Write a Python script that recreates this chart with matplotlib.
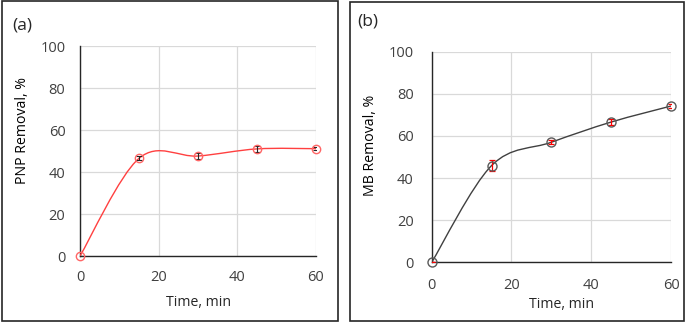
import numpy as np
import matplotlib
matplotlib.use("Agg")
import matplotlib.pyplot as plt
from matplotlib.path import Path
from matplotlib.patches import PathPatch, Rectangle

plt.rcParams['font.family'] = ['Open Sans', 'DejaVu Sans']

# data
time_min = [0, 15, 30, 45, 60]
pnp_removal = [0.0, 46.5, 47.6, 51.0, 51.1]
pnp_err = [0.0, 1.0, 1.5, 1.5, 0.6]
mb_removal = [0.0, 45.9, 57.0, 66.6, 74.2]
mb_err = [0.0, 2.5, 0.9, 1.5, 1.0]

x_ticks = [0, 20, 40, 60]
y_ticks = [0, 20, 40, 60, 80, 100]


def smooth_path(x, y):
    """Excel-style smoothed line as a cubic Bezier path (data coords)."""
    pts = np.column_stack([x, y]).astype(float)
    n = len(pts)
    verts = [pts[0]]
    codes = [Path.MOVETO]
    for i in range(n - 1):
        p_prev = pts[max(i - 1, 0)]
        p_next2 = pts[min(i + 2, n - 1)]
        c1 = pts[i] + (pts[i + 1] - p_prev) / 6.0
        c2 = pts[i + 1] - (p_next2 - pts[i]) / 6.0
        verts += [c1, c2, pts[i + 1]]
        codes += [Path.CURVE4] * 3
    return Path(verts, codes)


def style_axes(ax, xpad, ypad):
    ax.set_xlim(0, 60)
    ax.set_ylim(0, 100)
    ax.set_xticks(x_ticks)
    ax.set_yticks(y_ticks)
    ax.grid(True, color='#d9d9d9', lw=0.9)
    ax.set_axisbelow(True)
    for s in ['top', 'right']:
        ax.spines[s].set_visible(False)
    for s in ['left', 'bottom']:
        ax.spines[s].set_color('#262626')
        ax.spines[s].set_linewidth(1.0)
    ax.tick_params(length=0, labelsize=10.5, colors='#404040')
    ax.tick_params(axis='x', pad=xpad)
    ax.tick_params(axis='y', pad=ypad)


fig = plt.figure(figsize=(6.85, 3.23), dpi=100)

# panel frames
fig.patches.append(Rectangle((1.5 / 685, 1 - 321 / 323), 336 / 685, 320 / 323,
                             transform=fig.transFigure, fill=False, ec='#262626', lw=1.2))
fig.patches.append(Rectangle((350 / 685, 1 - 320.5 / 323), 333.5 / 685, 319 / 323,
                             transform=fig.transFigure, fill=False, ec='#262626', lw=1.2))

# (a) PNP
ax1 = fig.add_axes([80 / 685, 1 - 256 / 323, 236 / 685, 210 / 323])
style_axes(ax1, 10, 10.5)
ax1.add_patch(PathPatch(smooth_path(time_min, pnp_removal), fill=False,
                        ec='#ff4040', lw=1.0, zorder=3))
ax1.errorbar(time_min, pnp_removal, yerr=pnp_err, fmt='none', ecolor='#262626',
             elinewidth=0.8, capsize=2, capthick=0.8, zorder=4)
ax1.plot(time_min, pnp_removal, 'o', ms=6, mfc='none', mec='#ff6666', mew=1.0,
         zorder=5, clip_on=False)
ax1.set_xlabel('Time, min', fontsize=10.2, color='#262626', va='center', ha='center')
ax1.set_ylabel('PNP Removal, %', fontsize=10.2, color='#000000', va='center', ha='center')
ax1.xaxis.set_label_coords(0.503, -0.222)
ax1.yaxis.set_label_coords(-0.242, 0.598)
fig.text(12 / 685, 1 - 26 / 323, '(a)', fontsize=12.5, va='center', ha='left', color='#262626')

# (b) MB
ax2 = fig.add_axes([431.7 / 685, 1 - 262.3 / 323, 239.3 / 685, 210.6 / 323])
style_axes(ax2, 11, 13)
ax2.add_patch(PathPatch(smooth_path(time_min, mb_removal), fill=False,
                        ec='#404040', lw=1.0, zorder=3))
ax2.errorbar(time_min, mb_removal, yerr=mb_err, fmt='none', ecolor='#ff0000',
             elinewidth=0.9, capsize=2, capthick=0.9, zorder=4)
ax2.plot(time_min, mb_removal, 'o', ms=6.5, mfc='none', mec='#595959', mew=1.0,
         zorder=5, clip_on=False)
ax2.set_xlabel('Time, min', fontsize=10.2, color='#262626', va='center', ha='center')
ax2.set_ylabel('MB Removal, %', fontsize=10.2, color='#000000', va='center', ha='center')
ax2.xaxis.set_label_coords(0.543, -0.199)
ax2.yaxis.set_label_coords(-0.255, 0.554)
fig.text(357 / 685, 1 - 21 / 323, '(b)', fontsize=12.5, va='center', ha='left', color='#262626')

fig.savefig('out.png', dpi=100)
